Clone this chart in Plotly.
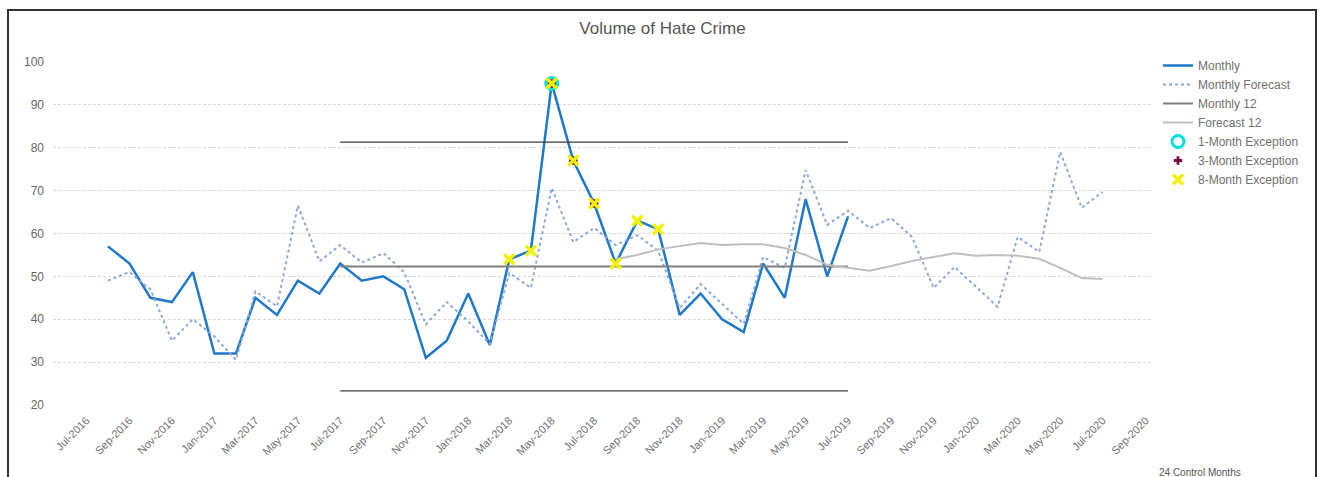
import pandas as pd
import plotly.graph_objects as go

# ---------------- data ----------------
months_all = list(pd.date_range("2016-08-01", periods=48, freq="MS"))  # Aug-2016 .. Jul-2020

monthly = [57, 53, 45, 44, 51, 32, 32, 45, 41, 49, 46, 53,
           49, 50, 47, 31, 35, 46, 34, 54, 56, 95, 77, 67,
           53, 63, 61, 41, 46, 40, 37, 53, 45, 68, 50, 64]          # Aug-2016 .. Jul-2019

monthly_forecast = [49, 51, 47, 35, 40, 36, 30.5, 46.5, 43, 66.5, 53.5, 57.3,
                    53.2, 55.4, 51, 38.8, 44, 39.5, 34.2, 50.8, 47.3, 70.6, 58, 61.3,
                    57.3, 59.6, 56, 42.6, 48.2, 43.5, 38.9, 54.5, 52, 74.8, 62, 65.3,
                    61.3, 63.6, 59.2, 47.3, 52.2, 47.6, 42.9, 59.2, 55.7, 79, 66, 69.7]

forecast12 = [54, 55, 56.3, 57, 57.8, 57.3, 57.5, 57.5, 56.6, 55, 52.7, 52,
              51.3, 52.4, 53.6, 54.5, 55.4, 54.8, 55, 54.8, 54.1, 52, 49.6, 49.4]  # Aug-2018 .. Jul-2020

control_start = "2017-07-01"
control_end = "2019-07-01"
control_mean = 52.3
control_ucl = 81.3
control_lcl = 23.3

exc1_months = ["2018-05-01"]
exc3_months = ["2018-05-01", "2018-06-01", "2018-07-01"]
exc8_months = ["2018-03-01", "2018-04-01", "2018-05-01", "2018-06-01",
               "2018-07-01", "2018-08-01", "2018-09-01", "2018-10-01"]

# ---------------- derived ----------------
months_monthly = months_all[:len(monthly)]
months_f12 = months_all[24:24 + len(forecast12)]
mval = {d.strftime("%Y-%m-%d"): v for d, v in zip(months_monthly, monthly)}

def exc(ms):
    return [pd.Timestamp(m) for m in ms], [mval[m] for m in ms]

fig = go.Figure()

fig.add_trace(go.Scatter(x=months_monthly, y=monthly, name="Monthly", mode="lines",
                         line=dict(color="#1f78c8", width=2.5)))
fig.add_trace(go.Scatter(x=months_all, y=monthly_forecast, name="Monthly Forecast", mode="lines",
                         line=dict(color="#8ca8d6", width=2, dash="dot")))
fig.add_trace(go.Scatter(x=[control_start, control_end], y=[control_mean, control_mean],
                         name="Monthly 12", mode="lines", line=dict(color="#7f7f7f", width=2)))
fig.add_trace(go.Scatter(x=[control_start, control_end], y=[control_ucl, control_ucl],
                         name="UCL", mode="lines", showlegend=False,
                         line=dict(color="#3a3a3a", width=1.3)))
fig.add_trace(go.Scatter(x=[control_start, control_end], y=[control_lcl, control_lcl],
                         name="LCL", mode="lines", showlegend=False,
                         line=dict(color="#3a3a3a", width=1.3)))
fig.add_trace(go.Scatter(x=months_f12, y=forecast12, name="Forecast 12", mode="lines",
                         line=dict(color="#bfbfbf", width=2)))

x1, y1 = exc(exc1_months)
fig.add_trace(go.Scatter(x=x1, y=y1, name="1-Month Exception", mode="markers",
                         marker=dict(symbol="circle-open", color="#00e0e0", size=12,
                                     line=dict(width=3, color="#00e0e0"))))
x3, y3 = exc(exc3_months)
fig.add_trace(go.Scatter(x=x3, y=y3, name="3-Month Exception", mode="markers",
                         marker=dict(symbol="cross", color="#7a0a40", size=7,
                                     line=dict(width=0))))
x8, y8 = exc(exc8_months)
fig.add_trace(go.Scatter(x=x8, y=y8, name="8-Month Exception", mode="markers",
                         marker=dict(symbol="x-thin", color="#f2f200", size=10,
                                     line=dict(width=3.5, color="#f2f200"))))

W, H = 1325, 477
L, R, T, B = 53, 1152, 62, 405

def px2paper_x(px):
    return (px - L) / (R - L)

def px2paper_y(py):
    return (B - py) / (B - T)

fig.update_layout(
    width=W, height=H,
    margin=dict(l=L, r=W - R, t=T, b=H - B),
    paper_bgcolor="white", plot_bgcolor="white",
    font=dict(family="Liberation Sans, Arial, sans-serif", color="#666666"),
    title=dict(text="Volume of Hate Crime", x=0.5, xanchor="center",
               y=1 - 28 / H, yref="container", yanchor="middle",
               font=dict(size=17, color="#555555")),
    showlegend=True,
    legend=dict(x=px2paper_x(1158), xanchor="left", y=px2paper_y(51), yanchor="top",
                font=dict(size=12, color="#707070"), itemwidth=30,
                bgcolor="rgba(0,0,0,0)", tracegroupgap=0),
    xaxis=dict(type="date", range=["2016-05-14", "2020-09-10"],
               tick0="2016-07-01", dtick="M2", tickformat="%b-%Y", tickangle=-45,
               showgrid=False, zeroline=False, showline=False, ticks="",
               tickfont=dict(size=11, color="#707070"), ticklabelstandoff=6),
    yaxis=dict(range=[20, 100], dtick=10, showgrid=True, gridcolor="#d9d9d9",
               griddash="3px,2px", gridwidth=1, zeroline=False, showline=False, ticks="",
               tickfont=dict(size=12, color="#666666"), ticklabelstandoff=8),
    shapes=[dict(type="rect", xref="paper", yref="paper",
                 x0=px2paper_x(8), x1=px2paper_x(1316),
                 y0=px2paper_y(490), y1=px2paper_y(10),
                 line=dict(color="#333333", width=2), fillcolor="rgba(0,0,0,0)", layer="above")],
    annotations=[dict(text="24 Control Months", xref="paper", yref="paper",
                      x=px2paper_x(1157), y=px2paper_y(472), xanchor="left", yanchor="middle",
                      showarrow=False, font=dict(size=10, color="#555555"))],
)

fig.write_html("out.html")
